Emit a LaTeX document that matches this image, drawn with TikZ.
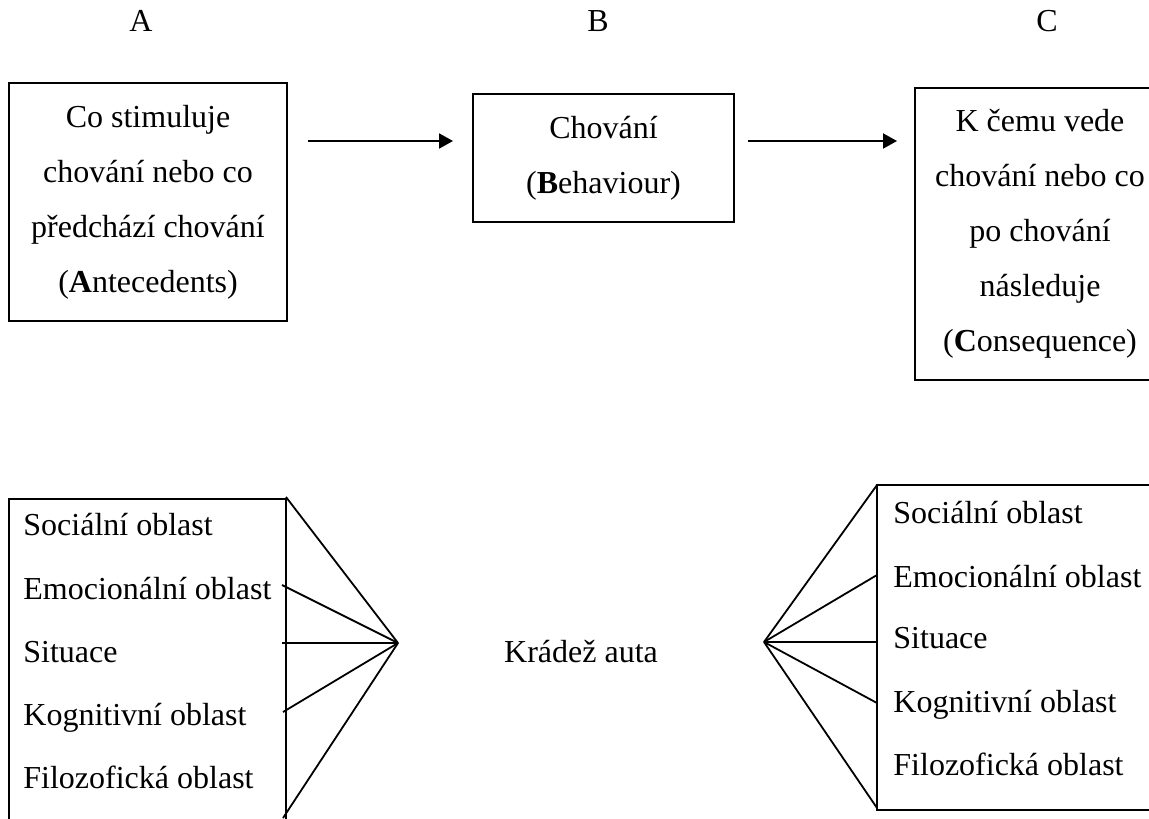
\documentclass[tikz,border=0pt]{standalone}
\usepackage{fontspec}
\setmainfont{Liberation Serif}
\usetikzlibrary{arrows.meta}

\begin{document}
\begin{tikzpicture}[x=0.5pt, y=-0.5pt,
	every node/.style={font=\fontsize{16}{27.5}\selectfont},
	box/.style={draw=black, line width=1pt, align=center, inner sep=0pt},
	item/.style={anchor=base west, inner sep=0pt},
	flow/.style={-{Triangle[length=7pt,width=7.5pt]}, line width=1pt},
	ray/.style={-, line width=0.9pt}]
	\useasboundingbox (0,0) rectangle (1149,818);
	\clip (0,0) rectangle (1149,818);

	% top row: A - B - C
	\node[anchor=base]                                       (la)   at (141,32)   {A};
	\node[anchor=base]                                       (lb)   at (598,32)   {B};
	\node[anchor=base]                                       (lc)   at (1047,32)  {C};

	\node[box, minimum width=139pt, minimum height=119pt]    (ante) at (148,202)  {Co stimuluje\\chování nebo co\\předchází chování\\(\textbf{A}ntecedents)};
	\node[box, minimum width=130.5pt, minimum height=64pt]   (beh)  at (603.5,158) {Chování\\(\textbf{B}ehaviour)};
	\node[box, minimum width=125pt, minimum height=146pt]    (cons) at (1040,234) {K čemu vede\\chování nebo co\\po chování\\následuje\\(\textbf{C}onsequence)};

	\coordinate (f1s) at (308,141);
	\coordinate (f1e) at (453,141);
	\coordinate (f2s) at (748,141);
	\coordinate (f2e) at (897,141);
	\path [flow] (f1s) edge (f1e);
	\path [flow] (f2s) edge (f2e);

	% bottom row
	\node[box, minimum width=138.5pt, minimum height=170.5pt] (left)  at (147.5,669.5) {};
	\node[box, minimum width=149pt, minimum height=162.5pt]   (right) at (1026,647.5)  {};

	\node[item] (soc1) at (23,535) {Sociální oblast};
	\node[item] (emo1) at (23,599) {Emocionální oblast};
	\node[item] (sit1) at (23,662) {Situace};
	\node[item] (kog1) at (23,725) {Kognitivní oblast};
	\node[item] (fil1) at (23,788) {Filozofická oblast};

	\node[item] (soc2) at (893,523) {Sociální oblast};
	\node[item] (emo2) at (893,587) {Emocionální oblast};
	\node[item] (sit2) at (893,648) {Situace};
	\node[item] (kog2) at (893,712) {Kognitivní oblast};
	\node[item] (fil2) at (893,775) {Filozofická oblast};

	\node[anchor=base] (theft) at (581,662) {Krádež auta};

	\coordinate (apexl) at (398,643);
	\coordinate (l1) at (286,497);
	\coordinate (l2) at (282,585);
	\coordinate (l3) at (282,643);
	\coordinate (l4) at (283,712);
	\coordinate (l5) at (283,818);

	\coordinate (apexr) at (764,642);
	\coordinate (r1) at (877,485);
	\coordinate (r2) at (877,575);
	\coordinate (r3) at (877,642);
	\coordinate (r4) at (877,703);
	\coordinate (r5) at (877,808);

	\foreach \i in {1,...,5} {
		\path [ray] (apexl) edge (l\i);
		\path [ray] (apexr) edge (r\i);
	}
\end{tikzpicture}
\end{document}
